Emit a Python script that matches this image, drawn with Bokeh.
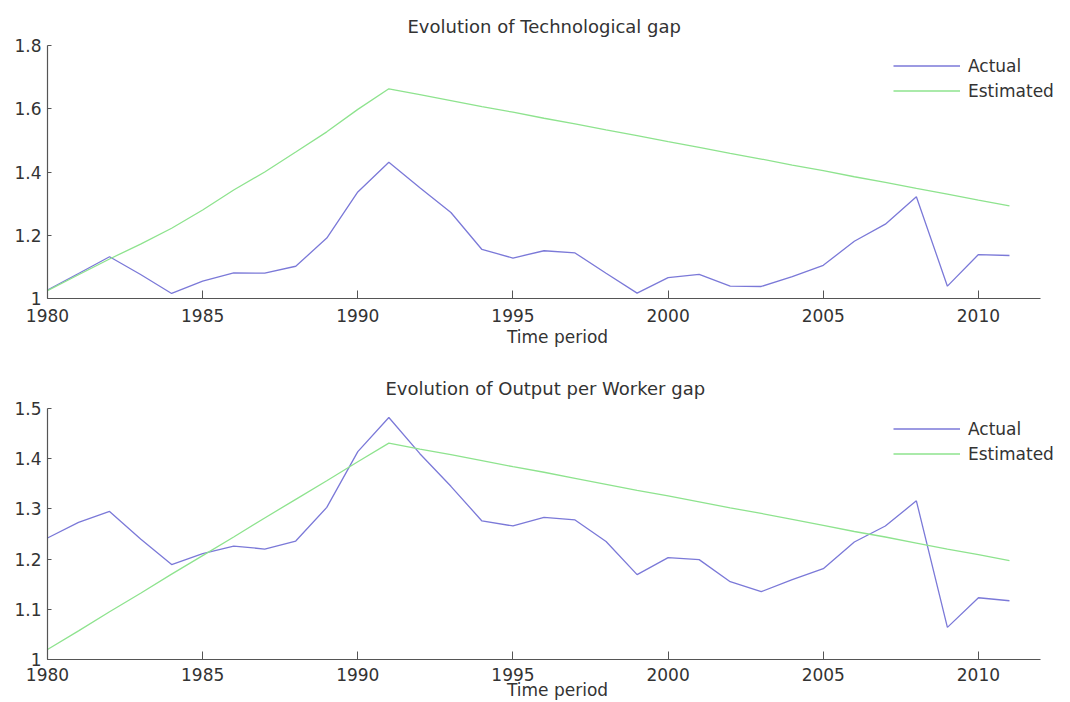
from bokeh.plotting import figure
from bokeh.layouts import column
from bokeh.models import Range1d, FixedTicker, CustomJSTickFormatter, Legend, LegendItem
from bokeh.embed import file_html
from bokeh.resources import INLINE

years = list(range(1980, 2012))

tech_actual = [1.027, 1.079, 1.132, 1.076, 1.016, 1.055, 1.081, 1.080, 1.102, 1.191,
               1.337, 1.431, 1.350, 1.272, 1.155, 1.128, 1.151, 1.144, 1.080, 1.017,
               1.066, 1.076, 1.039, 1.038, 1.069, 1.105, 1.181, 1.235, 1.322, 1.039,
               1.139, 1.136]
tech_est = [1.025, 1.075, 1.125, 1.172, 1.222, 1.280, 1.343, 1.400, 1.463, 1.527,
            1.598, 1.663, 1.645, 1.626, 1.607, 1.589, 1.570, 1.552, 1.533, 1.515,
            1.496, 1.478, 1.459, 1.441, 1.422, 1.404, 1.385, 1.367, 1.348, 1.330,
            1.311, 1.293]

out_actual = [1.242, 1.273, 1.295, 1.240, 1.189, 1.211, 1.226, 1.220, 1.236, 1.303,
              1.414, 1.482, 1.410, 1.345, 1.276, 1.266, 1.283, 1.278, 1.235, 1.169,
              1.203, 1.199, 1.155, 1.135, 1.159, 1.181, 1.234, 1.266, 1.316, 1.064,
              1.123, 1.117]
out_est = [1.020, 1.057, 1.095, 1.132, 1.170, 1.207, 1.244, 1.282, 1.319, 1.356,
           1.394, 1.431, 1.419, 1.408, 1.396, 1.384, 1.373, 1.361, 1.349, 1.337,
           1.326, 1.314, 1.302, 1.291, 1.279, 1.267, 1.255, 1.244, 1.232, 1.220,
           1.209, 1.197]

x_ticks = [1980, 1985, 1990, 1995, 2000, 2005, 2010]
x_axis_span = (1980, 2012)
tech_y_ticks = [1.0, 1.2, 1.4, 1.6, 1.8]
out_y_ticks = [1.0, 1.1, 1.2, 1.3, 1.4, 1.5]

titles = ["Evolution of Technological gap", "Evolution of Output per Worker gap"]
series_names = ["Actual", "Estimated"]
x_label = "Time period"

FONT = "DejaVu Sans"
FS = "17px"
TXT = "#333333"
AX = "#555555"
C_ACT = "#7b79d8"
C_EST = "#8ee38e"

AXIS_W = 993      # pixel length of the drawn x axis (1980..2012)
FRAME_W = 1020    # frame extends further right so the legend fits


def make(title, title_offset, title_standoff, actual, est, yticks, ymin, ymax, frame_h,
         border_top, border_bottom, tick_standoff, label_standoff):
    x_end = x_axis_span[0] + (x_axis_span[1] - x_axis_span[0]) * FRAME_W / AXIS_W
    p = figure(frame_width=FRAME_W, frame_height=frame_h, output_backend="svg",
               toolbar_location=None, x_range=Range1d(x_axis_span[0], x_end),
               y_range=Range1d(ymin, ymax),
               min_border_left=47, min_border_right=0,
               min_border_top=border_top, min_border_bottom=border_bottom)
    p.title.text = title
    p.title.align = "left"
    p.title.offset = title_offset
    p.title.standoff = title_standoff
    p.title.text_font = FONT
    p.title.text_font_size = "18px"
    p.title.text_font_style = "normal"
    p.title.text_color = TXT
    p.outline_line_color = None
    p.grid.visible = False
    p.background_fill_color = "white"
    p.border_fill_color = "white"

    p.xaxis.ticker = FixedTicker(ticks=x_ticks)
    p.xaxis.bounds = x_axis_span
    p.yaxis.ticker = FixedTicker(ticks=yticks)
    p.yaxis.formatter = CustomJSTickFormatter(code="return String(Number(tick.toFixed(2)));")
    for ax in (p.xaxis, p.yaxis):
        ax.axis_line_color = AX
        ax.axis_line_width = 1.2
        ax.major_tick_line_color = AX
        ax.major_tick_out = 0
        ax.minor_tick_line_color = None
        ax.major_label_text_font = FONT
        ax.major_label_text_font_size = FS
        ax.major_label_text_color = TXT
        ax.axis_label_text_font = FONT
        ax.axis_label_text_font_size = FS
        ax.axis_label_text_font_style = "normal"
        ax.axis_label_text_color = TXT
    p.xaxis.major_tick_in = 8
    p.yaxis.major_tick_in = 4
    p.xaxis.major_label_standoff = tick_standoff
    p.yaxis.major_label_standoff = 6
    p.xaxis.axis_label = x_label
    p.xaxis.axis_label_standoff = label_standoff

    r1 = p.line(years, actual, line_color=C_ACT, line_width=1.3)
    r2 = p.line(years, est, line_color=C_EST, line_width=1.3)
    leg = Legend(items=[LegendItem(label=series_names[0], renderers=[r1]),
                        LegendItem(label=series_names[1], renderers=[r2])],
                 location=(846, frame_h - 58))
    leg.border_line_color = None
    leg.background_fill_alpha = 0
    leg.padding = 0
    leg.margin = 0
    leg.spacing = 0
    leg.glyph_width = 67
    leg.glyph_height = 25
    leg.label_height = 25
    leg.label_standoff = 8
    leg.label_text_font = FONT
    leg.label_text_font_size = FS
    leg.label_text_color = TXT
    p.add_layout(leg)
    return p


p1 = make(titles[0], 360, 17, tech_actual, tech_est, tech_y_ticks, 1.0, 1.8, 253, 45, 20, 10, 2)
p2 = make(titles[1], 338, 19, out_actual, out_est, out_y_ticks, 1.0, 1.5, 251, 59, 20, 8, -4)

layout = column(p1, p2, spacing=0)
open("out.html", "w").write(file_html(layout, INLINE))
